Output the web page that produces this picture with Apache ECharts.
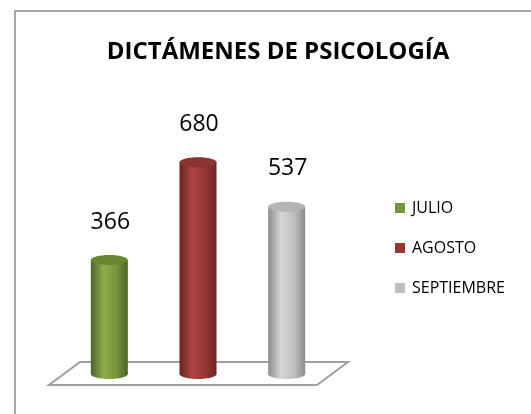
<!DOCTYPE html>
<html lang="es">
<head>
    <meta charset="UTF-8">
    <script src="https://cdn.jsdelivr.net/npm/echarts@6/dist/echarts.min.js"></script>
</head>
<body style="margin:0">
<div id="main" style="width: 531px;height:414px;"></div>
<script type="text/javascript">
    // datos del gráfico
    var meses = ['JULIO', 'AGOSTO', 'SEPTIEMBRE'];
    var valores = [366, 680, 537];
    var colores = ['#77933C', '#953735', '#BFBFBF'];
    var claros = ['#8FAE4A', '#AD4442', '#D6D6D6'];
    var oscuros = ['#4F6228', '#6B2423', '#8C8C8C'];
    var topes = ['#6B8633', '#8A3331', '#B4B4B4'];

    var myChart = echarts.init(document.getElementById('main'));

    function cilindro(i) {
        return function (params, api) {
            var top = api.coord([i, api.value(1)]);
            var base = api.coord([i, 0]);
            var w = 37, ry = 5;
            var x = top[0] - w / 2;
            var grad = new echarts.graphic.LinearGradient(0, 0, 1, 0, [
                {offset: 0, color: oscuros[i]},
                {offset: 0.35, color: claros[i]},
                {offset: 0.7, color: colores[i]},
                {offset: 1, color: oscuros[i]}
            ]);
            return {
                type: 'group',
                children: [
                    {type: 'ellipse', shape: {cx: top[0], cy: base[1], rx: w / 2, ry: ry}, style: {fill: grad}},
                    {type: 'rect', shape: {x: x, y: top[1], width: w, height: base[1] - top[1]}, style: {fill: grad}},
                    {type: 'ellipse', shape: {cx: top[0], cy: top[1], rx: w / 2, ry: ry}, style: {fill: topes[i]}},
                    {type: 'text', style: {
                        text: String(api.value(1)), x: top[0] + 1, y: top[1] - 38,
                        align: 'center', verticalAlign: 'middle',
                        font: '23px "Open Sans", sans-serif', fill: '#000'
                    }}
                ]
            };
        };
    }

    var series = meses.map(function (m, i) {
        return {
            name: m,
            type: 'custom',
            itemStyle: {color: colores[i]},
            renderItem: cilindro(i),
            data: [[i, valores[i]]]
        };
    });

    var option = {
        animation: false,
        title: {
            text: 'DICTÁMENES DE PSICOLOGÍA',
            left: 273, top: 35, textAlign: 'center',
            textStyle: {fontFamily: 'Open Sans', fontWeight: 'bold', fontSize: 24, color: '#000'}
        },
        legend: {
            orient: 'vertical',
            left: 395, top: 200, padding: 0,
            icon: 'rect', itemWidth: 10, itemHeight: 10, itemGap: 24,
            data: meses,
            textStyle: {fontFamily: 'Open Sans', fontSize: 16, lineHeight: 10, color: '#000', padding: [0, 0, 0, 2]}
        },
        grid: {left: 65, right: 200, top: 125, bottom: 40},
        xAxis: {type: 'category', data: meses, show: false},
        yAxis: {type: 'value', min: 0, max: 800, show: false},
        graphic: [
            {type: 'rect', shape: {x: 15, y: 11, width: 600, height: 500}, style: {fill: 'none', stroke: '#8c8c8c', lineWidth: 1.5}, silent: true},
            {type: 'polygon', shape: {points: [[80, 362], [348, 362], [317, 385], [49, 385]]}, style: {fill: '#fff', stroke: '#a0a0a0', lineWidth: 2}, silent: true}
        ],
        series: series
    };

    myChart.setOption(option);
</script>
</body>
</html>
